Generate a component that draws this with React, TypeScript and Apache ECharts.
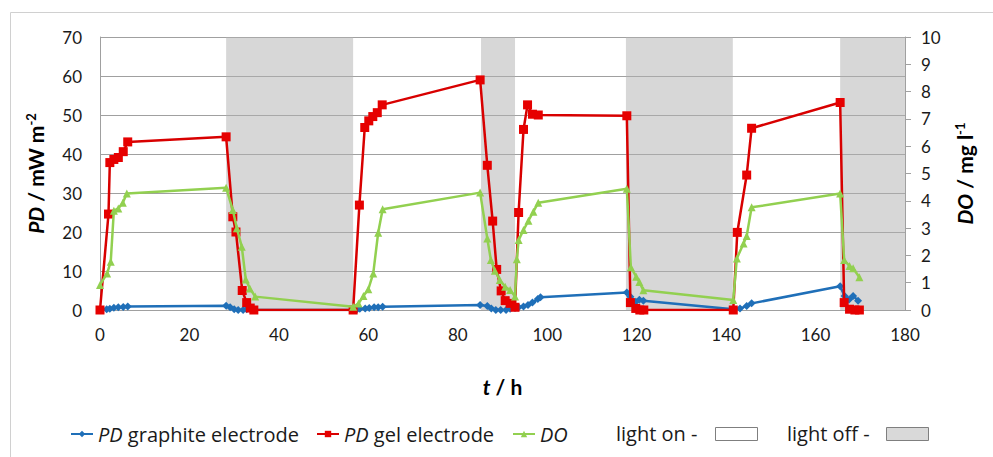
import React, { useEffect, useRef } from "react";
import * as echarts from "echarts";

// time (h) and values
const tGraphite = [0, 1.5, 2.2, 3.1, 4.1, 5.2, 6.2, 28.2, 29.1, 30, 30.9, 32, 32.8, 34.4, 56.6, 57.5, 58.1, 59.3, 60.2, 61.3, 62.2, 63.2, 85, 86.6, 87.5, 88.5, 89.6, 90.8, 91.7, 92.8, 93.6, 94.7, 95.7, 96.7, 97.9, 98.5, 117.8, 118.6, 119.8, 120.6, 121.5, 141.6, 143.1, 144.6, 145.7, 165.5, 166.5, 167.5, 168.4, 169.5];
const pdGraphite = [0, 0.2, 0.35, 0.6, 0.7, 0.8, 0.9, 1.1, 0.7, 0.2, 0, 0, 0.2, 0, 0, 0.2, 0.35, 0.4, 0.5, 0.7, 0.7, 0.85, 1.3, 1.0, 0.4, 0, 0, 0, 0.3, 0.5, 0.7, 0.9, 1.3, 1.9, 2.8, 3.3, 4.5, 3.4, 2.1, 2.6, 2.4, 0.2, 0.4, 1.0, 1.7, 6.1, 3.6, 2.7, 3.6, 2.4];

const tGel = [0, 1.9, 2.2, 3.1, 4.1, 5.2, 6.2, 28.2, 29.7, 30.4, 31.8, 32.8, 33.6, 34.4, 56.6, 58, 59.2, 60.1, 61, 62, 63.1, 85, 86.6, 87.8, 88.7, 89.7, 90.6, 91.7, 92.8, 93.6, 94.7, 95.6, 96.7, 98, 117.8, 118.6, 119.8, 120.7, 121.6, 141.6, 142.5, 144.6, 145.7, 165.5, 166.4, 167.6, 168.8, 169.8];
const pdGel = [0, 24.6, 37.8, 38.6, 39.1, 40.6, 43.1, 44.4, 23.9, 20, 5, 1.9, 0.5, 0, 0, 26.9, 46.8, 48.5, 49.6, 50.6, 52.6, 59, 37.1, 22.8, 10.4, 4.9, 2.4, 1.7, 0.7, 25, 46.3, 52.6, 50.2, 50, 49.8, 1.9, 0.4, 0, 0, 0, 19.9, 34.6, 46.6, 53.2, 1.9, 0.2, 0, 0];

const tDO = [0, 1.6, 2.4, 3.1, 4.1, 5.1, 6, 28.2, 29.7, 30.6, 31.7, 32.6, 33.5, 34.7, 56.6, 57.8, 58.9, 60, 61.1, 62.2, 63.2, 85, 86.6, 87.4, 88.3, 89.4, 90.6, 91.7, 92.8, 93.2, 93.6, 94.7, 95.8, 96.9, 98, 117.8, 118.7, 119.9, 120.6, 121.5, 141.6, 142.4, 143.9, 144.6, 145.7, 165.5, 166.4, 167.6, 168.4, 169.8];
const doValues = [0.92, 1.34, 1.77, 3.64, 3.72, 3.93, 4.27, 4.48, 3.66, 2.99, 2.32, 1.12, 0.79, 0.49, 0.12, 0.24, 0.51, 0.76, 1.34, 2.83, 3.69, 4.3, 2.62, 1.83, 1.44, 1.1, 0.85, 0.73, 0.49, 1.86, 2.56, 2.93, 3.27, 3.6, 3.93, 4.44, 1.57, 1.22, 1.03, 0.72, 0.37, 1.89, 2.44, 2.71, 3.76, 4.27, 1.83, 1.61, 1.53, 1.2];

// light-off periods (h)
const lightOffStart = [28.2, 85.2, 117.6, 165.5];
const lightOffEnd = [56.6, 92.8, 141.5, 180];

const seriesNames = ["PD graphite electrode", "PD gel electrode", "DO"];
const xTicks = [0, 20, 40, 60, 80, 100, 120, 140, 160, 180];

const FONT = "Lato, 'Open Sans', sans-serif";
const LFONT = "'Open Sans', sans-serif";
const legendLefts = [65, 311, 507];

const zip = (a: number[], b: number[]) => a.map((v, i) => [v, b[i]]);

export default function App() {
  const ref = useRef<HTMLDivElement>(null);
  useEffect(() => {
    document.body.style.margin = "0";
    const chart = echarts.init(ref.current!, undefined, { renderer: "svg" });
    const titleRich = {
      i: { fontStyle: "italic", fontWeight: "bold", fontSize: 21, fontFamily: FONT, color: "#000" },
      n: { fontWeight: "bold", fontSize: 21, fontFamily: FONT, color: "#000" },
      sup: { fontWeight: "bold", fontSize: 13, fontFamily: FONT, color: "#000", verticalAlign: "top", padding: [0, 0, 10, 0] },
    };
    const legendText = {
      fontSize: 20,
      fontFamily: LFONT,
      color: "#1a1a1a",
      rich: {
        i: { fontStyle: "italic", fontSize: 20, fontFamily: LFONT, color: "#1a1a1a" },
        n: { fontSize: 20, fontFamily: LFONT, color: "#1a1a1a" },
      },
    };
    chart.setOption({
      animation: false,
      backgroundColor: "#fff",
      textStyle: { fontFamily: FONT },
      grid: { left: 100, top: 37, width: 805, height: 273, containLabel: false },
      xAxis: {
        type: "value",
        min: xTicks[0],
        max: xTicks[xTicks.length - 1],
        interval: 20,
        axisLine: { show: true, lineStyle: { color: "#a0a0a0", width: 1 } },
        axisTick: { show: false },
        splitLine: { show: false },
        axisLabel: { color: "#1a1a1a", fontSize: 17, fontFamily: FONT, margin: 16 },
        name: "{i|t}{n| / h}",
        nameLocation: "middle",
        nameGap: 66,
        nameTextStyle: { rich: titleRich },
      },
      yAxis: [
        {
          type: "value",
          min: 0,
          max: 70,
          interval: 10,
          position: "left",
          axisLine: { show: true, lineStyle: { color: "#a0a0a0", width: 1 } },
          axisTick: { show: false },
          splitLine: { show: true, lineStyle: { color: "#a0a0a0", width: 1 } },
          axisLabel: { color: "#1a1a1a", fontSize: 17, fontFamily: FONT, margin: 18 },
          name: "{i|PD}{n| / mW m}{sup|-2}",
          nameLocation: "middle",
          nameRotate: 90,
          nameGap: 53,
          nameTextStyle: { rich: titleRich },
        },
        {
          type: "value",
          min: 0,
          max: 10,
          interval: 1,
          position: "right",
          axisLine: { show: true, lineStyle: { color: "#a0a0a0", width: 1 } },
          axisTick: { show: true, inside: false, length: 6, lineStyle: { color: "#a0a0a0" } },
          splitLine: { show: false },
          axisLabel: { color: "#1a1a1a", fontSize: 17, fontFamily: FONT, margin: 16 },
          name: "{i|DO}{n| / mg l}{sup|-1}",
          nameLocation: "middle",
          nameRotate: 90,
          nameGap: 48,
          nameTextStyle: { rich: titleRich },
        },
      ],
      legend: seriesNames.map((nm, k) => ({
        data: [nm],
        left: legendLefts[k],
        top: 419,
        itemWidth: 22,
        itemHeight: 8,
        textStyle: legendText,
        formatter: (name: string) =>
          name.startsWith("PD") ? `{i|PD}{n|${name.slice(2)}}` : `{i|${name}}`,
      })),
      graphic: [
        { type: "rect", left: 8, top: 10, shape: { width: 1100, height: 600 }, style: { fill: "none", stroke: "#d0d0d0", lineWidth: 1 }, silent: true },
        { type: "text", left: 616, top: 423, style: { text: "light on -", fontSize: 20, fontFamily: LFONT, fill: "#1a1a1a" } },
        { type: "rect", left: 715, top: 427, shape: { width: 42, height: 13 }, style: { fill: "#fff", stroke: "#7f7f7f", lineWidth: 1 } },
        { type: "text", left: 787, top: 423, style: { text: "light off -", fontSize: 20, fontFamily: LFONT, fill: "#1a1a1a" } },
        { type: "rect", left: 886, top: 427, shape: { width: 42, height: 13 }, style: { fill: "#d9d9d9", stroke: "#7f7f7f", lineWidth: 1 } },
      ],
      series: [
        {
          name: seriesNames[0],
          type: "line",
          yAxisIndex: 0,
          data: zip(tGraphite, pdGraphite),
          symbol: "diamond",
          symbolSize: 8,
          color: "#1f6fb8",
          lineStyle: { width: 2.5, color: "#1f6fb8" },
          itemStyle: { color: "#1f6fb8" },
          z: 3,
          markArea: {
            silent: true,
            itemStyle: { color: "rgba(176,176,176,0.5)" },
            data: lightOffStart.map((s, i) => [{ xAxis: s }, { xAxis: lightOffEnd[i] }]),
          },
        },
        {
          name: seriesNames[1],
          type: "line",
          yAxisIndex: 0,
          data: zip(tGel, pdGel),
          symbol: "rect",
          symbolSize: 9,
          color: "#e60000",
          lineStyle: { width: 2.5, color: "#d80000" },
          itemStyle: { color: "#e60000" },
          z: 4,
        },
        {
          name: seriesNames[2],
          type: "line",
          yAxisIndex: 1,
          data: zip(tDO, doValues),
          symbol: "triangle",
          symbolSize: 8,
          color: "#92d050",
          lineStyle: { width: 2.5, color: "#92d050" },
          itemStyle: { color: "#92d050" },
          z: 5,
        },
      ],
    });
    return () => chart.dispose();
  }, []);
  return <div ref={ref} style={{ width: 993, height: 457 }} />;
}
